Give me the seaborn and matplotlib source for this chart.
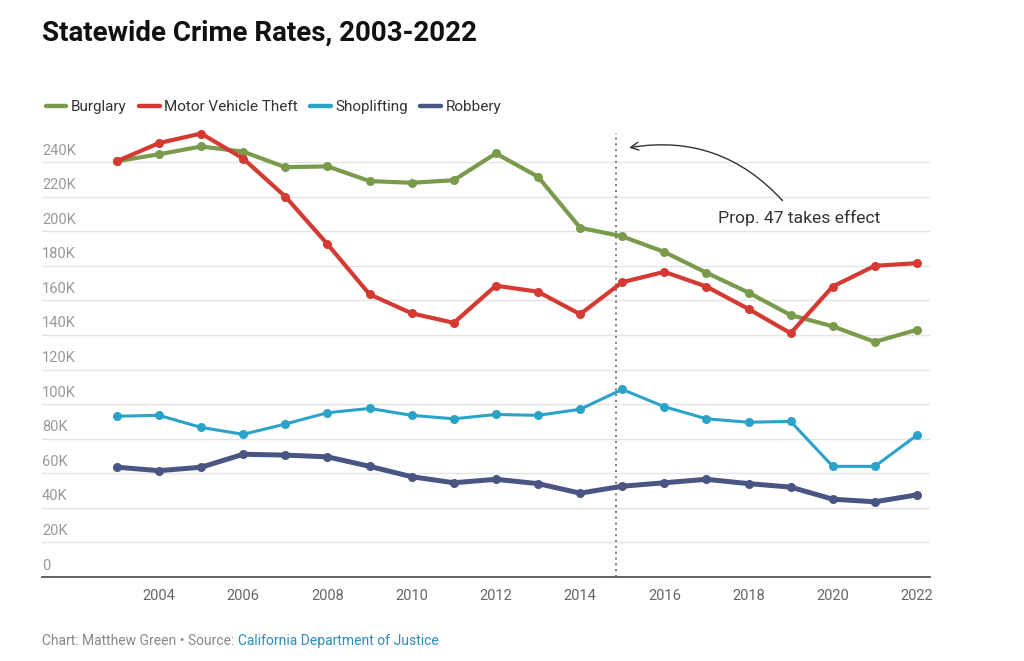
import matplotlib
matplotlib.use("Agg")
import matplotlib.pyplot as plt
import matplotlib.lines as mlines
import seaborn as sns
import pandas as pd

years = list(range(2003, 2023))
burglary = [240.5, 244.5, 249, 246, 237, 237.5, 229, 228, 229.5, 245, 231.5,
            202, 197, 188, 176, 164.5, 151.5, 145, 136, 143]
motor_vehicle_theft = [240.5, 251, 256.5, 242, 220, 192.5, 163.5, 152.5, 147, 168.5, 165,
                       152, 170.5, 176.5, 168, 155, 141, 168, 180, 181.5]
shoplifting = [93, 93.5, 86.5, 82.5, 88.5, 95, 97.5, 93.5, 91.5, 94, 93.5,
               97, 108.5, 98.5, 91.5, 89.5, 90, 64, 64, 82]
robbery = [63.5, 61.5, 63.5, 71, 70.5, 69.5, 64, 58, 54.5, 56.5, 54,
           48.5, 52.5, 54.5, 56.5, 54, 52, 45, 43.5, 47.5]
series_names = ["Burglary", "Motor Vehicle Theft", "Shoplifting", "Robbery"]
colors = ["#7a9a4c", "#d43a32", "#2ba3c9", "#4b5583"]
y_ticks = [0, 20, 40, 60, 80, 100, 120, 140, 160, 180, 200, 220, 240]
y_tick_labels = ["0", "20K", "40K", "60K", "80K", "100K", "120K", "140K",
                 "160K", "180K", "200K", "220K", "240K"]
x_ticks = list(range(2004, 2023, 2))
prop47_year = 2014.85

rows = []
for name, vals in zip(series_names, [burglary, motor_vehicle_theft, shoplifting, robbery]):
    for y, v in zip(years, vals):
        rows.append({"Year": y, "Value": v * 1000, "Series": name})
df = pd.DataFrame(rows)

sns.set_theme(style="white")
plt.rcParams["font.family"] = ["Roboto", "DejaVu Sans"]

fig = plt.figure(figsize=(10.24, 6.61), dpi=100)
W, H = 1024, 661
ax = fig.add_axes([42 / W, (H - 577) / H, (930 - 42) / W, (577 - 133) / H])

palette = dict(zip(series_names, colors))
widths = {"Burglary": 3.0, "Motor Vehicle Theft": 3.0, "Shoplifting": 2.2, "Robbery": 3.6}
for name in series_names:
    sub = df[df["Series"] == name]
    sns.lineplot(data=sub, x="Year", y="Value", color=palette[name], ax=ax,
                 linewidth=widths[name], marker="o", markersize=6.5,
                 markeredgewidth=0, label=name, clip_on=False, zorder=3)

ax.set_xlim(2001.22, 2022.31)
ax.set_ylim(0, 256800)
ax.set_yticks([t * 1000 for t in y_ticks])
ax.set_yticklabels([])
ax.tick_params(axis="y", length=0)
ax.grid(axis="y", color="#e4e4e4", linewidth=1)
ax.grid(axis="x", visible=False)
ax.set_xticks(x_ticks)
ax.set_xticklabels([str(x) for x in x_ticks], color="#666666", fontsize=10.5)
ax.tick_params(axis="x", length=0, pad=9)
ax.set_xlabel("")
ax.set_ylabel("")
for s in ["top", "right", "left"]:
    ax.spines[s].set_visible(False)
ax.spines["bottom"].set_color("#555555")
ax.spines["bottom"].set_linewidth(1.3)

for t, lab in zip(y_ticks, y_tick_labels):
    ax.text(0.0, t * 1000 + 2600, lab, transform=ax.get_yaxis_transform(),
            ha="left", va="bottom", color="#999999", fontsize=10.5)

ax.axvline(prop47_year, color="#777777", linestyle=(0, (1, 2)), linewidth=1.4, zorder=2)

ax.text(2019.2, 207500, "Prop. 47 takes effect", ha="center", va="center",
        fontsize=12.6, color="#333333")
ax.annotate("", xy=(2015.1, 248000), xytext=(2018.85, 216500),
            arrowprops=dict(arrowstyle="->", color="#333333", linewidth=1.0,
                            connectionstyle="arc3,rad=0.28", mutation_scale=14))

hs = [mlines.Line2D([], [], color=c, linewidth=3.2) for c in colors]
ax.legend(hs, series_names, loc="center left", bbox_to_anchor=(32 / W, 1 - 107 / H),
          bbox_transform=fig.transFigure, ncol=4, frameon=False, fontsize=11,
          handlelength=1.35, handletextpad=0.3, columnspacing=0.8, labelcolor="#333333")

fig.text(42 / W, 1 - 33 / H, "Statewide Crime Rates, 2003-2022", fontsize=20,
         fontweight="bold", ha="left", va="center", color="#111111")

t1 = fig.text(42 / W, 1 - 641 / H, "Chart: Matthew Green \u2022 Source: ", fontsize=10,
              color="#888888", ha="left", va="center")
ax.annotate("California Department of Justice", xy=(1, 0.5), xycoords=t1,
            ha="left", va="center", fontsize=10, color="#2a8cc0")

fig.savefig("out.png", dpi=100)
